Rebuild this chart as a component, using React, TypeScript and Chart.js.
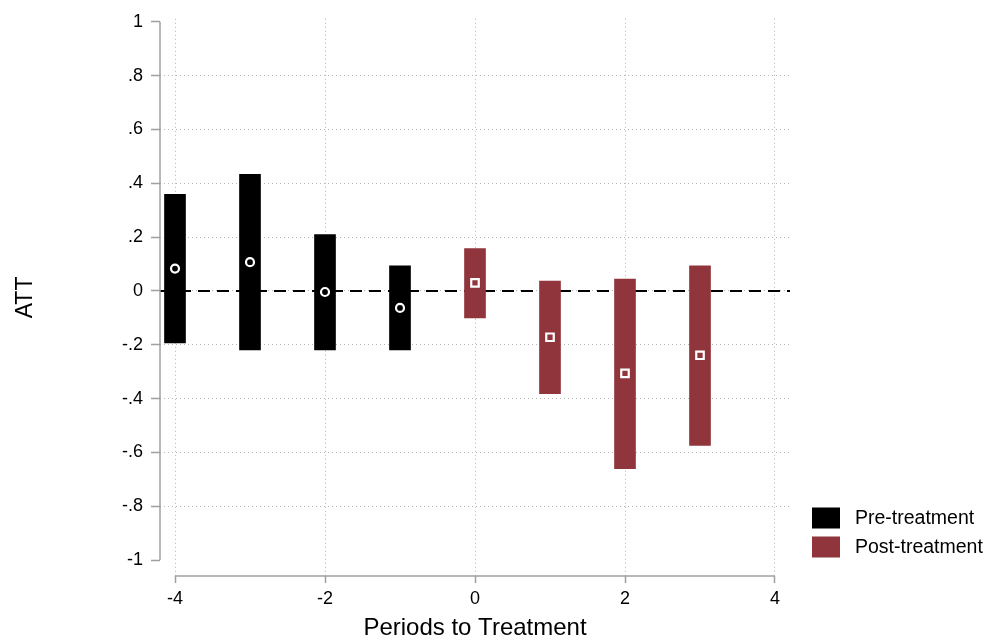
import React, { useEffect, useRef } from "react";
import { Chart, registerables } from "chart.js";

Chart.register(...registerables);

// ---- data ----
const prePeriods = [-4, -3, -2, -1];
const preATT = [0.083, 0.107, -0.004, -0.063];
const preLow = [-0.193, -0.219, -0.219, -0.219];
const preHigh = [0.359, 0.433, 0.209, 0.093];

const postPeriods = [0, 1, 2, 3];
const postATT = [0.03, -0.172, -0.306, -0.239];
const postLow = [-0.1, -0.382, -0.66, -0.574];
const postHigh = [0.157, 0.037, 0.044, 0.093];

const xTicks = [-4, -2, 0, 2, 4];
const xTickLabels = ["-4", "-2", "0", "2", "4"];
const yTicks = [1, 0.8, 0.6, 0.4, 0.2, 0, -0.2, -0.4, -0.6, -0.8, -1];
const yTickLabels = ["1", ".8", ".6", ".4", ".2", "0", "-.2", "-.4", "-.6", "-.8", "-1"];

const legendLabels = ["Pre-treatment", "Post-treatment"];
const PRE_COLOR = "#000000";
const POST_COLOR = "#90353B";
const FONT = "'Liberation Sans', Arial, sans-serif";
const GRID = "#b4b4b4";
const AXIS = "#a0a0a0";

const axisLegendPlugin = {
  id: "axisLegend",
  afterDraw(chart: any) {
    const { ctx, chartArea, scales } = chart;
    const xs = scales.x;
    const ys = scales.y;
    ctx.save();
    ctx.strokeStyle = AXIS;
    ctx.lineWidth = 1.5;
    ctx.beginPath();
    ctx.moveTo(chartArea.left, ys.getPixelForValue(yTicks[0]));
    ctx.lineTo(chartArea.left, ys.getPixelForValue(yTicks[yTicks.length - 1]));
    ctx.stroke();
    ctx.beginPath();
    ctx.moveTo(xs.getPixelForValue(xTicks[0]), chartArea.bottom);
    ctx.lineTo(xs.getPixelForValue(xTicks[xTicks.length - 1]), chartArea.bottom);
    ctx.stroke();
    // legend
    const colors = [PRE_COLOR, POST_COLOR];
    const bx = chartArea.right + 22;
    const centers = [518, 547];
    ctx.font = `19.5px ${FONT}`;
    ctx.textBaseline = "middle";
    ctx.textAlign = "left";
    legendLabels.forEach((lab, i) => {
      ctx.fillStyle = colors[i];
      ctx.fillRect(bx, centers[i] - 10.5, 28, 21);
      ctx.fillStyle = "#000";
      ctx.fillText(lab, bx + 43, centers[i] + 1);
    });
    ctx.restore();
  },
};

export default function App() {
  const ref = useRef<HTMLCanvasElement | null>(null);

  useEffect(() => {
    if (!ref.current) return;
    const chart = new Chart(ref.current, {
      type: "bar",
      data: {
        datasets: [
          {
            type: "scatter",
            label: "pre point",
            data: prePeriods.map((x, i) => ({ x, y: preATT[i] })),
            pointStyle: "circle",
            pointRadius: 4,
            pointBorderWidth: 2.2,
            pointBorderColor: "#ffffff",
            pointBackgroundColor: "rgba(0,0,0,0)",
            order: 0,
          } as any,
          {
            type: "scatter",
            label: "post point",
            data: postPeriods.map((x, i) => ({ x, y: postATT[i] })),
            pointStyle: "rect",
            pointRadius: 5.3,
            pointBorderWidth: 2.2,
            pointBorderColor: "#ffffff",
            pointBackgroundColor: POST_COLOR,
            order: 0,
          } as any,
          {
            type: "bar",
            label: legendLabels[0],
            data: prePeriods.map((x, i) => ({ x, y: [preLow[i], preHigh[i]] })),
            backgroundColor: PRE_COLOR,
            barThickness: 21,
            grouped: false,
            order: 1,
          } as any,
          {
            type: "bar",
            label: legendLabels[1],
            data: postPeriods.map((x, i) => ({ x, y: [postLow[i], postHigh[i]] })),
            backgroundColor: POST_COLOR,
            barThickness: 21,
            grouped: false,
            order: 1,
          } as any,
          {
            type: "line",
            label: "zero",
            data: [
              { x: -4.2, y: 0 },
              { x: 4.2, y: 0 },
            ],
            borderColor: "#000",
            borderWidth: 2,
            borderDash: [12, 7],
            pointRadius: 0,
            order: 2,
          } as any,
        ],
      },
      options: {
        responsive: false,
        animation: false,
        layout: { padding: { top: 13, right: 195, left: 0, bottom: 0 } },
        plugins: {
          legend: { display: false },
          tooltip: { enabled: false },
        },
        scales: {
          x: {
            type: "linear",
            min: -4.2,
            max: 4.2,
            offset: false,
            afterBuildTicks: (s: any) => {
              s.ticks = xTicks.map((v) => ({ value: v }));
            },
            afterFit: (s: any) => {
              s.height = 67;
            },
            ticks: {
              autoSkip: false,
              maxRotation: 0,
              padding: 5,
              color: "#000",
              font: { family: FONT, size: 18 },
              callback: (v: any) => {
                const i = xTicks.indexOf(Number(v));
                return i >= 0 ? xTickLabels[i] : "";
              },
            },
            grid: {
              offset: false,
              color: GRID,
              lineWidth: 1,
              tickColor: AXIS,
              tickLength: 7,
              tickWidth: 1.5,
              tickBorderDash: [1, 0],
            } as any,
            border: { display: false, dash: [1, 3] } as any,
            title: {
              display: true,
              text: "Periods to Treatment",
              color: "#000",
              font: { family: FONT, size: 24 },
              padding: { top: 0, bottom: 0 },
            },
          },
          y: {
            type: "linear",
            min: -1.059,
            max: 1.011,
            afterBuildTicks: (s: any) => {
              s.ticks = yTicks.map((v) => ({ value: v }));
            },
            afterFit: (s: any) => {
              s.width = 160;
            },
            ticks: {
              autoSkip: false,
              padding: 8,
              color: "#000",
              font: { family: FONT, size: 18 },
              callback: (v: any) => {
                const i = yTicks.findIndex((t) => Math.abs(t - Number(v)) < 1e-9);
                return i >= 0 ? yTickLabels[i] : "";
              },
            },
            grid: {
              offset: false,
              color: (c: any) =>
                c.tick && Math.abs(Math.abs(c.tick.value) - 1) < 1e-9 ? "rgba(0,0,0,0)" : GRID,
              lineWidth: 1,
              tickColor: AXIS,
              tickLength: 9,
              tickWidth: 1.5,
              tickBorderDash: [1, 0],
            } as any,
            border: { display: false, dash: [1, 3] } as any,
            title: {
              display: true,
              text: "ATT",
              color: "#000",
              font: { family: FONT, size: 23 },
              padding: { top: 12, bottom: 0 },
            },
          },
        },
      },
      plugins: [axisLegendPlugin],
    });
    return () => chart.destroy();
  }, []);

  return (
    <div style={{ position: "fixed", left: 0, top: 0, width: 985, height: 643, background: "#fff" }}>
      <canvas ref={ref} width={985} height={643} />
    </div>
  );
}
